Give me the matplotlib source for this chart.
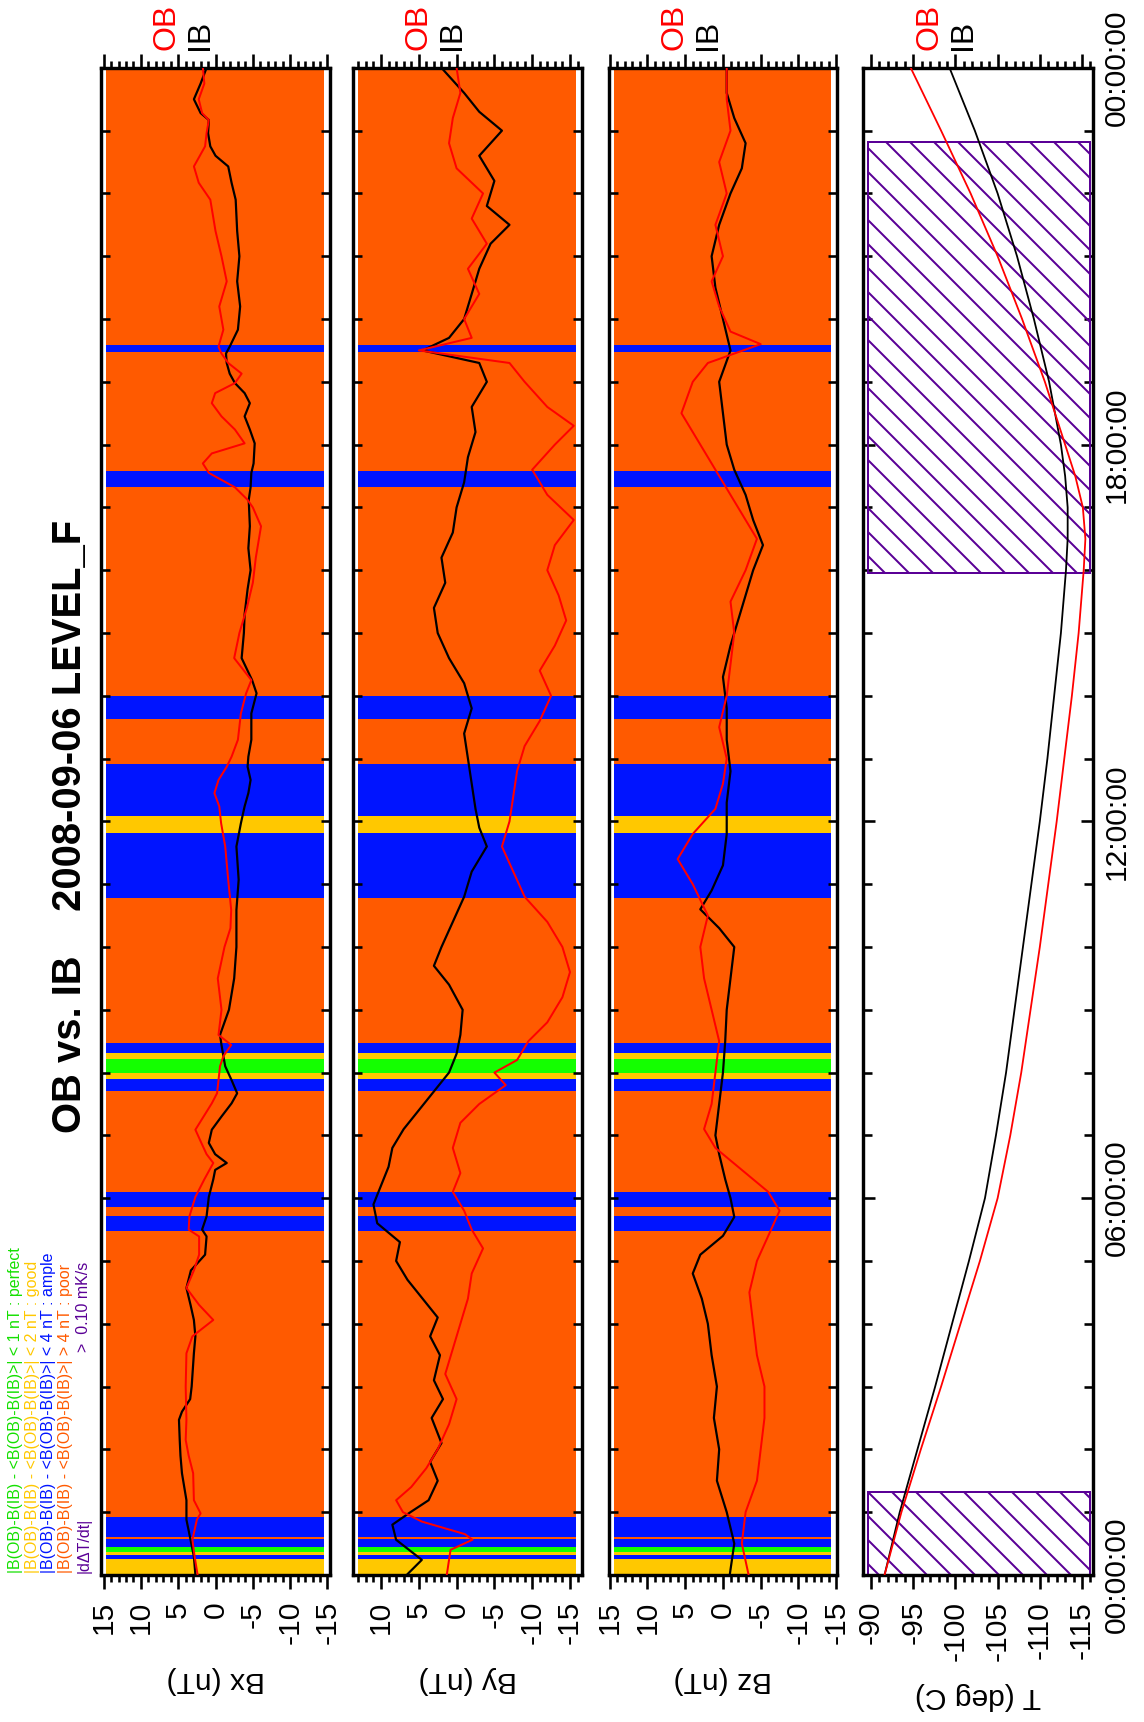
import numpy as np
import matplotlib
matplotlib.use('Agg')
import matplotlib.pyplot as plt
from matplotlib.ticker import MultipleLocator, FuncFormatter
from matplotlib.patches import Rectangle

plt.rcParams['font.family'] = ['Liberation Sans', 'DejaVu Sans']
plt.rcParams['axes.unicode_minus'] = False
plt.rcParams['hatch.linewidth'] = 1.0

# quality bands (hours) and class of each interval
band_edges = [0, 0.255, 0.31, 0.37, 0.45, 0.575, 0.60, 0.92, 5.48, 5.72, 5.865, 6.10,
              7.71, 7.90, 7.99, 8.22, 8.31, 8.47, 10.78, 11.81, 12.08, 12.91, 13.63,
              14.0, 17.32, 17.58, 19.47, 19.59, 24]
band_class = ['good', 'ample', 'good', 'perfect', 'ample', 'poor', 'ample', 'poor',
              'ample', 'poor', 'ample', 'poor', 'ample', 'good', 'perfect', 'good',
              'ample', 'poor', 'ample', 'good', 'ample', 'poor', 'ample', 'poor',
              'ample', 'poor', 'ample', 'poor']
class_color = {'perfect': '#14ff00', 'good': '#ffc800', 'ample': '#0014ff', 'poor': '#ff5a00'}

# Bx
bx_ib_t = [0, 0.29, 0.56, 0.88, 1.19, 1.62, 1.9, 2.15, 2.47, 2.6, 2.8, 3.0, 3.53, 3.8, 4.06,
           4.3, 4.57, 4.85, 5.1, 5.39, 5.5, 5.71, 6.02, 6.3, 6.45, 6.56, 6.7, 6.88, 7.09,
           7.3, 7.51, 7.67, 7.88, 8.1, 8.26, 8.44, 8.6, 9.0, 9.5, 10.0, 10.59, 11.07, 11.6,
           11.97, 12.24, 12.45, 12.66, 12.87, 13.03, 13.3, 13.72, 14.04, 14.25, 14.6, 15.0,
           15.3, 15.7, 16.0, 16.35, 16.7, 17.12, 17.32, 17.55, 17.7, 18.02, 18.24, 18.45,
           18.66, 18.82, 18.98, 19.13, 19.3, 19.45, 19.56, 19.83, 20.2, 20.6, 21.0, 21.4,
           21.9, 22.17, 22.43, 22.6, 22.75, 22.96, 23.17, 23.28, 23.5, 23.75, 24]
bx_ib = [2.7, 2.9, 3.35, 3.9, 3.9, 4.5, 4.7, 4.8, 4.9, 4.5, 3.4, 3.2, 2.9, 2.7, 2.9,
         3.35, 3.9, 3.3, 1.4, 1.2, 1.8, 1.2, 0.9, 0.3, 0.05, -1.5, 0.05, 0.9, 0.5,
         -0.8, -2.15, -2.9, -2.15, -1.3, -1.05, -0.8, -0.6, -1.8, -2.5, -2.8, -2.8, -3.1, -2.8,
         -3.4, -3.9, -4.4, -4.7, -4.3, -4.4, -4.8, -4.8, -5.5, -4.9, -3.5, -3.8,
         -3.9, -4.3, -4.7, -4.4, -4.6, -4.45, -4.7, -4.8, -5.1, -5.25, -4.6, -3.9,
         -4.6, -3.9, -2.6, -1.9, -1.5, -1.4, -1.9, -3.0, -3.3, -2.9, -3.2, -2.9,
         -2.7, -2.15, -1.7, 0.0, 0.7, 1.0, 0.9, 2.0, 2.9, 2.0, 1.2]
bx_ob_t = [0, 0.29, 0.56, 0.88, 0.98, 1.19, 1.62, 1.9, 2.15, 2.47, 3.0, 3.53, 3.8, 4.06,
           4.3, 4.57, 4.85, 5.1, 5.39, 5.5, 5.71, 6.02, 6.3, 6.56, 6.7, 6.88, 7.09, 7.3,
           7.51, 7.67, 7.88, 8.1, 8.26, 8.44, 8.6, 9.0, 9.5, 10.0, 10.3, 10.59, 11.07,
           11.6, 11.97, 12.24, 12.45, 12.66, 12.87, 13.03, 13.3, 13.72, 14.04, 14.25, 14.6,
           15.0, 15.4, 15.8, 16.2, 16.7, 17.0, 17.12, 17.32, 17.55, 17.7, 17.86, 18.02,
           18.24, 18.45, 18.66, 18.82, 18.98, 19.13, 19.3, 19.45, 19.56, 19.83, 20.2, 20.6,
           21.0, 21.4, 21.9, 22.17, 22.43, 22.75, 22.96, 23.17, 23.28, 23.5, 23.75, 24]
bx_ob = [2.4, 2.8, 3.1, 2.5, 2.0, 2.9, 3.0, 3.6, 4.0, 3.9, 4.0, 3.9, 3.1, 0.3,
         2.2, 3.9, 2.9, 2.2, 2.2, 3.6, 3.5, 2.7, 1.5, 0.3, 1.2, 1.9, 2.7, 1.6,
         0.5, -0.2, -0.4, -0.6, -1.05, -2.1, -0.4, -0.8, -0.3, -1.2, -2.0, -2.1, -1.7,
         -1.3, -0.75, -0.5, 0.15, -0.4, -1.5, -2.15, -3.0, -3.4, -4.1, -4.8, -2.5,
         -3.2, -4.2, -5.0, -5.4, -6.1, -5.0, -4.3, -2.6, 0.9, 1.7, 0.5, -3.9,
         -2.6, -0.8, 0.5, 0.05, -2.6, -3.5, -1.7, -0.8, -0.4, -1.05, -0.5, -1.5,
         -0.8, 0.0, 0.7, 2.25, 2.9, 1.4, 1.2, 0.9, 1.8, 2.25, 1.5, 1.7]

# By
by_ib_t = [0, 0.24, 0.56, 0.8, 1.0, 1.19, 1.5, 1.8, 2.1, 2.5, 2.8, 3.1, 3.5, 3.8, 4.1, 4.4,
           4.7, 5.0, 5.3, 5.6, 5.9, 6.2, 6.5, 6.8, 7.1, 7.4, 7.7, 8.0, 8.3, 8.6, 9.0, 9.4,
           9.7, 10.0, 10.4, 10.8, 11.2, 11.6, 11.9, 12.2, 12.6, 13.0, 13.4, 13.8, 14.2,
           14.6, 15.0, 15.4, 15.8, 16.2, 16.6, 17.0, 17.4, 17.8, 18.2, 18.6, 19.0, 19.3,
           19.5, 19.7, 20.0, 20.4, 20.8, 21.2, 21.5, 21.8, 22.2, 22.6, 23.0, 23.3, 23.6, 24]
by_ib = [6.6, 4.6, 8.0, 8.5, 6.1, 3.7, 2.5, 3.5, 2.0, 3.3, 1.8, 3.0, 2.2, 3.5, 2.5, 4.5,
         6.5, 8.0, 7.5, 10.5, 11.0, 10.0, 9.0, 8.5, 7.0, 5.0, 3.0, 1.0, 0.0, -0.5, -0.8, 1.0,
         3.0, 2.0, 0.5, -1.0, -2.0, -4.0, -3.0, -2.5, -2.0, -1.5, -1.0, -2.0, -1.0,
         1.0, 2.5, 3.0, 1.5, 2.0, 0.5, 0.0, -1.0, -1.5, -2.5, -2.0, -4.0, -3.0,
         4.5, 1.0, -1.0, -2.0, -3.0, -4.5, -7.0, -4.0, -5.0, -3.0, -6.0, -3.0, -1.0, 2.0]
by_ob_t = [0, 0.4, 0.56, 0.65, 0.85, 1.0, 1.19, 1.4, 1.7, 2.0, 2.4, 2.8, 3.2, 3.6, 4.0, 4.4,
           4.8, 5.2, 5.5, 5.8, 6.1, 6.4, 6.8, 7.2, 7.5, 7.8, 8.0, 8.2, 8.5, 8.8, 9.2, 9.6,
           10.0, 10.4, 10.8, 11.2, 11.6, 12.0, 12.4, 12.8, 13.2, 13.6, 14.0, 14.4, 14.8,
           15.2, 15.6, 16.0, 16.4, 16.8, 17.2, 17.6, 18.0, 18.3, 18.6, 19.0, 19.3, 19.5,
           19.7, 20.0, 20.4, 20.8, 21.2, 21.6, 22.0, 22.4, 22.8, 23.2, 23.6, 24]
by_ob = [1.3, 0.8, -2.1, -1.1, 4.6, 7.1, 8.0, 6.0, 4.0, 2.5, 1.0, 0.0, 1.5, 0.5, -0.5, -1.5,
         -2.0, -3.5, -2.0, -1.0, 0.5, -0.5, 0.5, -0.5, -3.0, -6.5, -5.0, -8.0, -9.5, -12.0,
         -14.0, -15.0, -14.0, -12.0, -9.0, -7.5, -6.0, -7.0, -7.5, -8.0, -9.0, -11.0, -12.5,
         -11.0, -13.0, -14.5, -13.5, -12.0, -13.0, -15.5, -12.0, -10.0, -13.0, -15.5,
         -12.0, -9.0, -7.0, 5.0, -2.0, -1.0, -3.0, -1.5, -4.0, -2.0, -3.5, 0.0, 1.0,
         0.5, -0.5, 0.0]

# Bz
bz_ib_t = [0, 0.5, 1.0, 1.5, 2.0, 2.5, 3.0, 3.5, 4.0, 4.4, 4.8, 5.1, 5.4, 5.7, 6.0, 6.3,
           6.7, 7.0, 7.5, 8.0, 8.5, 9.0, 9.5, 10.0, 10.3, 10.6, 10.9, 11.3, 11.8, 12.3,
           12.8, 13.3, 13.8, 14.3, 14.8, 15.2, 15.6, 16.0, 16.4, 16.8, 17.2, 17.6, 18.0,
           18.5, 19.0, 19.5, 20.0, 20.5, 21.0, 21.5, 22.0, 22.4, 22.8, 23.2, 23.6, 24]
bz_ib = [-0.9, -1.5, -0.5, 0.8, 0.5, 1.2, 0.8, 1.5, 2.0, 2.8, 4.0, 3.0, 0.0, -1.5, -1.0, -0.3,
         0.5, 1.0, 0.5, 0.0, -0.3, -0.5, -1.0, -1.5, 0.5, 3.0, 1.5, 0.0, -0.5, -0.5,
         -1.0, -0.5, -0.5, 0.0, -1.0, -2.0, -3.0, -4.0, -5.3, -4.0, -3.0, -1.5, -0.5,
         0.0, 0.5, -1.0, 0.0, 1.0, 1.5, 0.5, -1.0, -2.5, -3.0, -1.5, -0.5, -0.5]
bz_ob_t = [0, 0.5, 1.0, 1.5, 2.0, 2.5, 3.0, 3.5, 4.0, 4.5, 5.0, 5.4, 5.8, 6.1, 6.4, 6.8,
           7.1, 7.5, 8.0, 8.5, 9.0, 9.5, 10.0, 10.5, 11.0, 11.4, 11.8, 12.2, 12.6, 13.0,
           13.5, 14.0, 14.5, 15.0, 15.5, 16.0, 16.5, 17.0, 17.5, 18.0, 18.5, 19.0, 19.3,
           19.6, 19.8, 20.2, 20.6, 21.0, 21.5, 22.0, 22.5, 23.0, 23.5, 24]
bz_ob = [-3.4, -2.5, -3.0, -4.5, -5.0, -5.5, -5.5, -4.5, -4.0, -3.5, -4.5, -6.0, -7.5, -6.0,
         -3.0, 1.0, 2.5, 1.5, 1.0, 0.5, 1.5, 2.5, 3.0, 2.0, 4.0, 6.0, 4.0, 1.0, 0.0, -0.5,
         0.5, -0.5, -1.0, -1.5, -1.0, -3.0, -4.5, -2.0, 0.5, 3.0, 5.5, 4.0, 2.0,
         -5.0, -1.0, 0.5, 1.5, 0.0, 1.0, -0.5, 0.5, -1.0, -0.5, -0.5]

# temperature
temp_t = [0, 1, 2, 3, 4, 5, 6, 7, 8, 9, 10, 11, 12, 13, 14, 15, 16, 16.5, 17, 17.5, 18,
          19, 20, 21, 22, 23, 24]
temp_ib = [-91.6, -93.4, -95.5, -97.6, -99.6, -101.6, -103.5, -104.8, -106.0, -107.0,
           -108.0, -109.0, -110.0, -110.9, -111.7, -112.5, -113.1, -113.3, -113.3, -113.0,
           -112.5, -111.1, -109.3, -107.3, -105.0, -102.3, -99.3]
temp_ob = [-91.6, -93.6, -95.9, -98.3, -100.6, -102.9, -105.0, -106.5, -107.8, -108.9,
           -110.0, -111.0, -112.0, -112.9, -113.8, -114.6, -115.2, -115.4, -115.1, -114.2,
           -113.0, -110.6, -107.9, -105.0, -101.8, -98.3, -94.7]
# |dT/dt| > 0.10 mK/s intervals
heat_start = [0, 15.96]
heat_end = [1.32, 22.82]
heat_tmax, heat_tmin = -89.6, -115.9

purple = '#5a0096'

fig = plt.figure(figsize=(1144 / 144, 1722 / 144), dpi=144)
bot, hgt = 0.0854, 0.8752
axes = [fig.add_axes([0.0883, bot, 0.2002, hgt]),
        fig.add_axes([0.3086, bot, 0.2002, hgt]),
        fig.add_axes([0.5323, bot, 0.1993, hgt]),
        fig.add_axes([0.7544, bot, 0.2010, hgt])]

panels = [(bx_ib_t, bx_ib, bx_ob_t, bx_ob, (15.35, -15.35), 'Bx (nT)'),
          (by_ib_t, by_ib, by_ob_t, by_ob, (13.7, -16.6), 'By (nT)'),
          (bz_ib_t, bz_ib, bz_ob_t, bz_ob, (15.1, -15.1), 'Bz (nT)')]


def style(ax, xlim):
    ax.set_xlim(xlim)
    ax.set_ylim(0, 24)
    for s in ax.spines.values():
        s.set_linewidth(1.7)
    ax.xaxis.set_major_locator(MultipleLocator(5))
    ax.xaxis.set_minor_locator(MultipleLocator(1))
    ax.yaxis.set_major_locator(MultipleLocator(6))
    ax.yaxis.set_minor_locator(MultipleLocator(1))
    ax.tick_params(axis='x', which='both', direction='out', top=True, bottom=True,
                   width=1.3, labelrotation=90, labelsize=15)
    ax.tick_params(axis='x', which='major', length=7, pad=6)
    ax.tick_params(axis='x', which='minor', length=3.5)
    ax.tick_params(axis='y', which='both', direction='in', left=True, right=True,
                   labelleft=False, width=1.3, length=4.5)
    ax.text(0.288, 1.012, 'OB', color='red', transform=ax.transAxes, rotation=90,
            ha='center', va='bottom', fontsize=16)
    ax.text(0.434, 1.012, 'IB', color='black', transform=ax.transAxes, rotation=90,
            ha='center', va='bottom', fontsize=16)


for ax, (ti, vi, to, vo, xlim, lab) in zip(axes[:3], panels):
    for k, cls in enumerate(band_class):
        ax.axhspan(band_edges[k], band_edges[k + 1], xmin=0.02, xmax=0.972,
                   color=class_color[cls], lw=0, zorder=1)
    ax.plot(vi, ti, color='black', lw=1.1, zorder=3)
    ax.plot(vo, to, color='red', lw=1.0, zorder=3)
    style(ax, xlim)
    ax.text(0.5, -0.0697, lab, transform=ax.transAxes, rotation=180,
            ha='center', va='center', fontsize=15)

axT = axes[3]
for t0, t1 in zip(heat_start, heat_end):
    axT.add_patch(Rectangle((heat_tmin, t0), heat_tmax - heat_tmin, t1 - t0, fill=False,
                            hatch='\\\\', edgecolor=purple, lw=1.0, zorder=2))
axT.plot(temp_ib, temp_t, color='black', lw=0.9, zorder=3)
axT.plot(temp_ob, temp_t, color='red', lw=0.9, zorder=3)
style(axT, (-89.05, -116.3))
axT.tick_params(axis='y', which='major', labelright=True, labelrotation=90,
                labelsize=15, pad=5, length=6)
axT.yaxis.set_major_formatter(FuncFormatter(lambda v, p: '%02d:00:00' % (int(round(v)) % 24)))
for lab in axT.get_yticklabels():
    lab.set_va('center')
axT.text(0.5, -0.0803, 'T (deg C)', transform=axT.transAxes, rotation=180,
         ha='center', va='center', fontsize=15)

fig.text(0.0612, 0.520, 'OB vs. IB    2008-09-06 LEVEL_F', rotation=90, ha='center',
         va='center', fontsize=20, fontweight='bold')

legend_lines = ['|B(OB)-B(IB) - <B(OB)-B(IB)>| < 1 nT : perfect',
                '|B(OB)-B(IB) - <B(OB)-B(IB)>| < 2 nT : good',
                '|B(OB)-B(IB) - <B(OB)-B(IB)>| < 4 nT : ample',
                '|B(OB)-B(IB) - <B(OB)-B(IB)>| > 4 nT : poor']
legend_colors = ['#14e000', '#ffc800', '#0014ff', '#ff5a00']
legend_x = [16, 32.5, 49, 66]
for s, c, x in zip(legend_lines, legend_colors, legend_x):
    fig.text(x / 1144, 149 / 1722, s, color=c, rotation=90, ha='center', va='bottom',
             fontsize=8)
fig.text(84 / 1144, 149 / 1722, '|d\u0394T/dt|', color=purple, rotation=90,
         ha='center', va='bottom', fontsize=8)
fig.text(84 / 1144, 370 / 1722, '>  0.10 mK/s', color=purple, rotation=90,
         ha='center', va='bottom', fontsize=8)

fig.savefig('out.png', dpi=144)
